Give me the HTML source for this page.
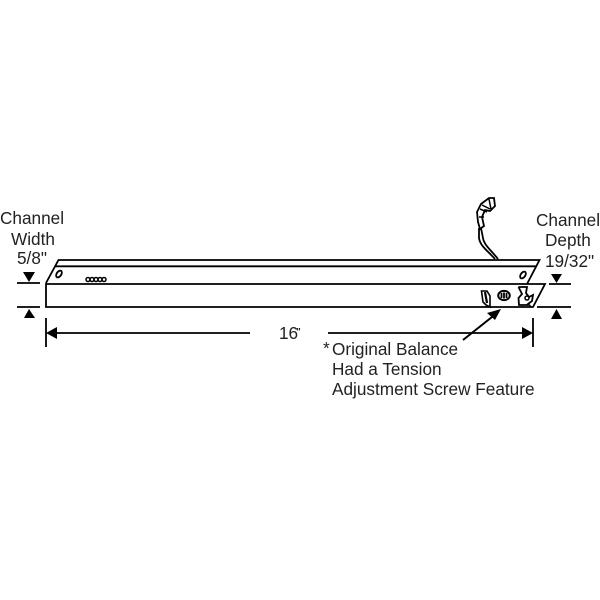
<!DOCTYPE html>
<html>
<head>
<meta charset="utf-8">
<style>
html,body{margin:0;padding:0;background:#fff;width:600px;height:600px;overflow:hidden}
svg{display:block;filter:blur(0.3px)}
text{font-family:"Liberation Sans",sans-serif;font-size:17.2px;fill:#222}
</style>
</head>
<body>
<svg width="600" height="600" viewBox="0 0 600 600" xmlns="http://www.w3.org/2000/svg">
<rect width="600" height="600" fill="#fff"/>
<g fill="none" stroke="#000" stroke-width="1.800">
  <!-- channel body -->
  <path d="M46 283 L58.500 260 H539.500 L527 284"/>
  <path d="M55 266.300 H535.500"/>
  <path d="M46 284 H545 L533 307 H46 Z"/>
  <!-- end holes -->
  <ellipse cx="59" cy="274" rx="2.300" ry="3.800" transform="rotate(35 59 274)"/>
  <ellipse cx="523" cy="275" rx="2.300" ry="3.800" transform="rotate(35 523 275)"/>
  <!-- slots and details -->
  <path d="M481.500 291 L487 291 L490 296 L490 307 L486 305 L483 302 Z" stroke-width="1.600"/>
  <path d="M485 292 L487 303" stroke-width="2.200"/>
  <ellipse cx="504" cy="295.500" rx="5.800" ry="4.600" stroke-width="2"/>
  <path d="M501.500 293 V298 M504 292.500 V298.500 M506.500 293 V298" stroke-width="1.800"/>
  <path d="M518.500 287 H527 L526 293 L529 297 L533 295 L532 301 L528 304 L531 307 M518.500 287 L522 294 L518.500 298 L519 305 H528" stroke-width="1.800"/>
  <circle cx="527" cy="298" r="2" stroke-width="1.500"/>
  <!-- cord -->
  <path d="M498 259 C491 250 484 245 483 238 L481 228" stroke-width="1.800"/>
  <path d="M495 259 C488 251 480 246 479 238 L479 228" stroke-width="1.800"/>
  <path d="M481 204 L489 198 L494 198 L495 206 L490 211 L485 210 L482 217 L484 226 L480 229 L478 222 L477 212 Z" stroke-width="1.800"/>
  <path d="M480 209 L487 212 M482 205 L490 209 M489 199 L491 209 M479 217 L484 217" stroke-width="1.500"/>
  <!-- perforated row -->
  <g stroke-width="1.500">
    <circle cx="88" cy="279.500" r="2"/>
    <circle cx="92" cy="279.500" r="2"/>
    <circle cx="96" cy="279.500" r="2"/>
    <circle cx="100" cy="279.500" r="2"/>
    <circle cx="104" cy="279.500" r="2"/>
  </g>
  <!-- dimension lines -->
  <path d="M17 283 H40 M17 307 H40"/>
  <path d="M549 284 H571 M537 307 H571"/>
  <path d="M46 318 V347 M533 318 V347"/>
  <path d="M50 333 H250 M328 333 H528"/>
  <path d="M463 340 L497 313" stroke-width="2"/>
</g>
<g fill="#000">
  <path d="M23 272 H35 L29 282 Z"/>
  <path d="M29 309 L35 318 H24 Z"/>
  <path d="M551 274 H562 L556.500 283 Z"/>
  <path d="M556.500 309 L562 319 H551 Z"/>
  <path d="M46 333 L57 327 V339 Z"/>
  <path d="M533 333 L522 327 V339 Z"/>
  <path d="M501 309 L495 320 L487 313 Z"/>
</g>
<text x="0" y="224">Channel</text>
<text x="11" y="245">Width</text>
<text x="17" y="264">5/8"</text>
<text x="536" y="226">Channel</text>
<text x="545" y="246">Depth</text>
<text x="545" y="267">19/32"</text>
<text x="279" y="339">16<tspan x="296" font-size="10" font-weight="bold" y="335">"</tspan></text>
<text x="323" y="354">*</text>
<text x="332" y="355">Original Balance</text>
<text x="332" y="375">Had a Tension</text>
<text x="332" y="395">Adjustment Screw Feature</text>
</svg>
</body>
</html>
